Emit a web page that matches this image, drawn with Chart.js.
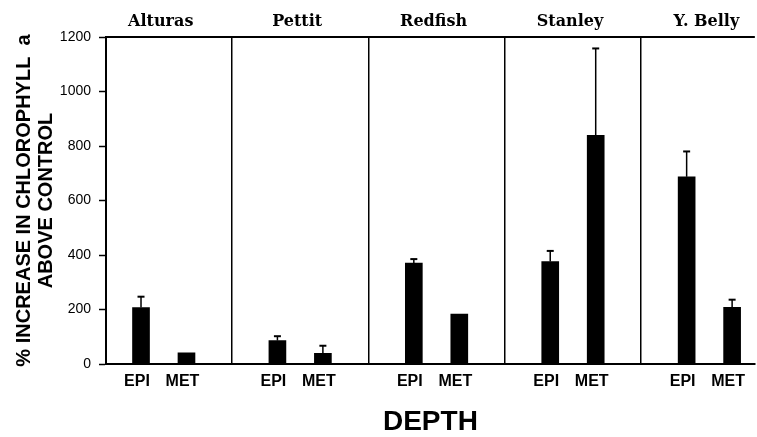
<!DOCTYPE html>
<html>
<head>
<meta charset="utf-8">
<script src="https://cdn.jsdelivr.net/npm/chart.js@4/dist/chart.umd.min.js"></script>
<style>
  html, body { margin: 0; padding: 0; background: #fff; }
  #wrap { width: 757px; height: 437px; position: relative; }
</style>
</head>
<body>
<div id="wrap"><canvas id="chl"></canvas></div>
<script>
// lakes (panels) and depth categories inside each panel
const lakes = ['Alturas', 'Pettit', 'Redfish', 'Stanley', 'Y. Belly'];
const depths = ['EPI', 'MET'];

// % increase in chlorophyll a above control, per lake
const epiValues = [207, 86, 370, 376, 687];
const metValues = [41, 39, 183, 839, 208];

// error bar heights (upper only), 0 = none drawn
const epiErrors = [40, 16, 15, 39, 93];
const metErrors = [0, 28, 0, 319, 28];

const yTicks = [0, 200, 400, 600, 800, 1000, 1200];

// each lake takes 3 slots: EPI, MET, then the divider slot
const slotsPerLake = 3;

const barPoints = [];
const barErrors = [];
lakes.forEach((lake, i) => {
    barPoints.push({ x: i * slotsPerLake, y: epiValues[i] });
    barErrors.push(epiErrors[i]);
    barPoints.push({ x: i * slotsPerLake + 1, y: metValues[i] });
    barErrors.push(metErrors[i]);
});

const fontSans = "'Liberation Sans', Arial, Helvetica, sans-serif";

// draws the error bars and the lake names above each panel
const extrasPlugin = {
    id: 'extras',
    afterDatasetsDraw(chart) {
        const ctx = chart.ctx;
        const xs = chart.scales.x;
        const ys = chart.scales.y;
        const meta = chart.getDatasetMeta(0);

        ctx.save();
        ctx.strokeStyle = '#000';
        meta.data.forEach((bar, idx) => {
            const err = barErrors[idx];
            if (!err) return;
            const pt = barPoints[idx];
            const yTop = ys.getPixelForValue(pt.y + err);
            ctx.lineWidth = 1.5;
            ctx.beginPath();
            ctx.moveTo(bar.x, bar.y);
            ctx.lineTo(bar.x, yTop);
            ctx.stroke();
            ctx.lineWidth = 2;
            ctx.beginPath();
            ctx.moveTo(bar.x - 3.5, yTop);
            ctx.lineTo(bar.x + 3.5, yTop);
            ctx.stroke();
        });

        // frame: top line
        ctx.lineWidth = 2;
        ctx.beginPath();
        ctx.moveTo(chart.chartArea.left, chart.chartArea.top);
        ctx.lineTo(chart.chartArea.right, chart.chartArea.top);
        ctx.stroke();

        // lake names
        ctx.fillStyle = '#000';
        ctx.font = "bold 16px 'DejaVu Serif', serif";
        ctx.textAlign = 'center';
        ctx.textBaseline = 'alphabetic';
        lakes.forEach((lake, i) => {
            const cx = xs.getPixelForValue(i * slotsPerLake + 0.5) - 3;
            ctx.fillText(lake, cx, 26);
        });
        ctx.restore();
    }
};

const ctx = document.getElementById('chl');

new Chart(ctx, {
    type: 'bar',
    data: {
        datasets: [{
            data: barPoints,
            backgroundColor: '#000',
            borderWidth: 0,
            barThickness: 17
        }]
    },
    options: {
        responsive: true,
        maintainAspectRatio: false,
        animation: false,
        events: [],
        plugins: {
            legend: { display: false },
            tooltip: { enabled: false }
        },
        layout: {
            padding: { top: 37, right: 0, bottom: 0, left: 0 }
        },
        scales: {
            x: {
                type: 'linear',
                offset: false,
                min: -0.77,
                max: 13.5,
                afterBuildTicks(scale) {
                    const t = [];
                    for (let v = 0; v < lakes.length * slotsPerLake - 1; v++) {
                        t.push({ value: v });
                    }
                    scale.ticks = t;
                },
                afterFit(scale) {
                    scale.height = 73;
                },
                border: { display: true, color: '#000', width: 2 },
                grid: {
                    offset: false,
                    drawOnChartArea: true,
                    drawTicks: false,
                    color(c) {
                        return c.tick && c.tick.value % slotsPerLake === 2 ? '#000' : 'rgba(0,0,0,0)';
                    },
                    lineWidth: 1.5
                },
                ticks: {
                    autoSkip: false,
                    maxRotation: 0,
                    padding: 8,
                    labelOffset: -4,
                    color: '#000',
                    font: { size: 16, weight: 'bold', family: fontSans },
                    callback(value) {
                        const k = Math.round(value) % slotsPerLake;
                        return k < depths.length ? depths[k] : '';
                    }
                },
                title: {
                    display: true,
                    text: 'DEPTH',
                    color: '#000',
                    font: { size: 28, weight: 'bold', family: fontSans, lineHeight: 1 },
                    padding: { top: 0, bottom: 1 }
                }
            },
            y: {
                min: 0,
                max: 1200,
                afterBuildTicks(scale) {
                    scale.ticks = yTicks.map(v => ({ value: v }));
                },
                afterFit(scale) {
                    scale.width = 106;
                },
                border: { display: true, color: '#000', width: 2 },
                grid: {
                    drawOnChartArea: false,
                    drawTicks: true,
                    tickLength: 7,
                    tickColor: '#000',
                    tickWidth: 1.5
                },
                ticks: {
                    padding: 8,
                    color: '#000',
                    font: { size: 14, family: fontSans },
                    callback(value) {
                        return String(value);
                    }
                },
                title: {
                    display: true,
                    text: ['% INCREASE IN CHLOROPHYLL  a', 'ABOVE CONTROL'],
                    color: '#000',
                    font: { size: 20, weight: 'bold', family: fontSans, lineHeight: 1.1 },
                    padding: { top: 13, bottom: 0 }
                }
            }
        }
    },
    plugins: [extrasPlugin]
});
</script>
</body>
</html>
